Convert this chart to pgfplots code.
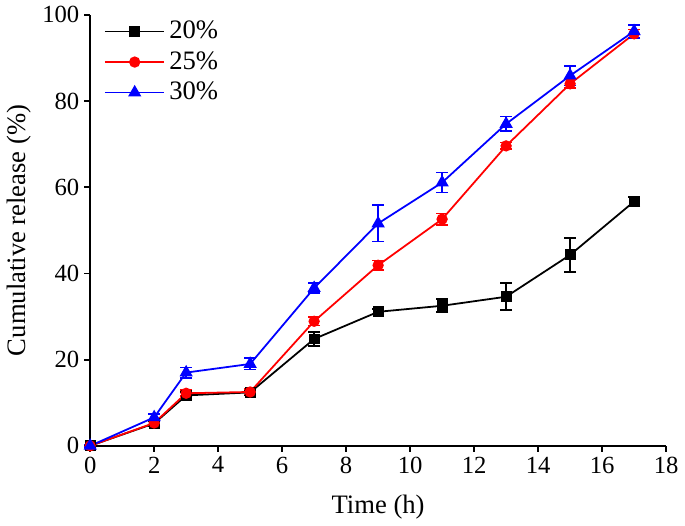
\documentclass[border=0pt]{standalone}
\usepackage{pgfplots}
\pgfplotsset{compat=1.18}
\usepackage{fontspec}
\setmainfont{Liberation Serif}
\begin{document}
\begin{tikzpicture}
\begin{axis}[
  scale only axis,
  width=292pt, height=218.5pt,
  xmin=0, xmax=18, ymin=0, ymax=100,
  xtick={0,2,...,18}, ytick={0,20,...,100},
  axis x line*=bottom, axis y line*=left,
  axis line style={line width=0.9pt},
  tick style={line width=0.9pt, black},
  tick align=outside, major tick length=3pt,
  /pgf/number format/assume math mode=true,
  tick label style={font=\fontsize{12.5}{14}\selectfont},
  xticklabel style={yshift=1pt},
  yticklabel style={xshift=1pt},
  xlabel={Time (h)}, ylabel={Cumulative release (\%)},
  label style={font=\fontsize{13.5}{15}\selectfont},
  xlabel style={yshift=-4pt},
  ylabel style={yshift=-1pt},
  legend style={draw=none, fill=none, at={(0.02,1.0)}, anchor=north west,
    font=\fontsize{13.5}{15}\selectfont, row sep=1pt, inner sep=1pt},
  legend cell align=left,
  legend image code/.code={\draw[line width=0.9pt, mark repeat=2,mark phase=2] plot coordinates {(0cm,0cm) (0.53cm,0cm) (1.06cm,0cm)};},
  every axis plot/.append style={line width=0.9pt},
  error bars/error bar style={line width=0.9pt},
  error bars/error mark options={rotate=90, mark size=3pt, line width=0.9pt},
  clip=false,
]
\addplot[black, mark=square*, mark size=2.3pt, mark options={solid},
  error bars/.cd, y dir=both, y explicit]
  coordinates {
  (0,0) +- (0,0.3)
  (2,5.2) +- (0,0.6)
  (3,11.7) +- (0,0.8)
  (5,12.4) +- (0,0.6)
  (7,24.8) +- (0,1.7)
  (9,31.1) +- (0,0.6)
  (11,32.5) +- (0,1.5)
  (13,34.6) +- (0,3.1)
  (15,44.3) +- (0,3.9)
  (17,56.7) +- (0,1.0)
  };
\addlegendentry{20\%}
\addplot[red, mark=*, mark size=2.4pt, mark options={solid},
  error bars/.cd, y dir=both, y explicit]
  coordinates {
  (0,0) +- (0,0.3)
  (2,5.3) +- (0,0.6)
  (3,12.2) +- (0,0.7)
  (5,12.5) +- (0,0.6)
  (7,28.9) +- (0,1.0)
  (9,41.9) +- (0,1.1)
  (11,52.6) +- (0,1.3)
  (13,69.6) +- (0,0.8)
  (15,84.0) +- (0,1.0)
  (17,95.6) +- (0,1.0)
  };
\addlegendentry{25\%}
\addplot[blue, mark=triangle*, mark size=3pt, mark options={solid},
  error bars/.cd, y dir=both, y explicit]
  coordinates {
  (0,0) +- (0,0.3)
  (2,6.6) +- (0,0.7)
  (3,17.0) +- (0,1.2)
  (5,19.0) +- (0,1.3)
  (7,36.6) +- (0,1.2)
  (9,51.6) +- (0,4.2)
  (11,61.1) +- (0,2.3)
  (13,74.7) +- (0,1.7)
  (15,85.9) +- (0,2.3)
  (17,96.2) +- (0,1.5)
  };
\addlegendentry{30\%}
\end{axis}
\end{tikzpicture}
\end{document}
